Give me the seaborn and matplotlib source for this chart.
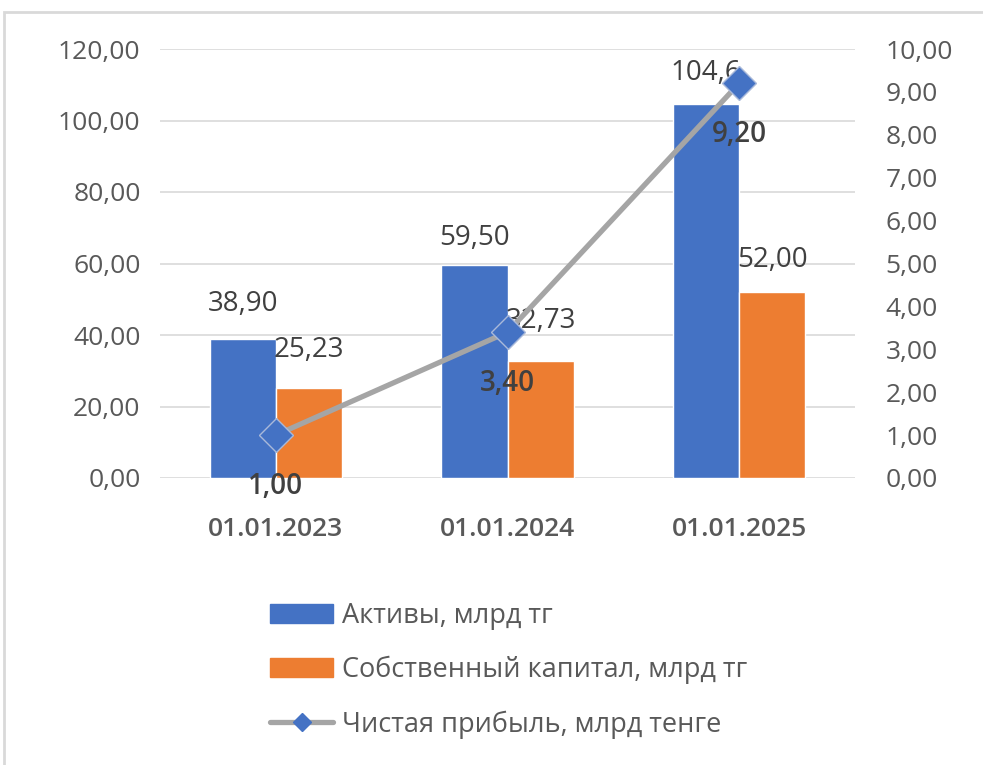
import numpy as np
import pandas as pd
import matplotlib
matplotlib.use("Agg")
import matplotlib.pyplot as plt
from matplotlib.patches import Patch, Rectangle
from matplotlib.lines import Line2D
import seaborn as sns

dates = ["01.01.2023", "01.01.2024", "01.01.2025"]
assets = [38.90, 59.50, 104.6]
equity = [25.23, 32.73, 52.00]
profit = [1.00, 3.40, 9.20]
asset_labels = ["38,90", "59,50", "104,6"]
equity_labels = ["25,23", "32,73", "52,00"]
profit_labels = ["1,00", "3,40", "9,20"]
series_names = ["Активы, млрд тг", "Собственный капитал, млрд тг", "Чистая прибыль, млрд тенге"]
left_ticks = [0, 20, 40, 60, 80, 100, 120]
right_ticks = [0, 1, 2, 3, 4, 5, 6, 7, 8, 9, 10]

BLUE = "#4472C4"
ORANGE = "#ED7D31"
GREY = "#A5A5A5"
TXT = "#595959"
DARK = "#404040"

sns.set_theme(style="white")
plt.rcParams["font.family"] = ["Open Sans", "DejaVu Sans"]

df = pd.DataFrame({
    "date": dates * 2,
    "value": assets + equity,
    "series": [series_names[0]] * 3 + [series_names[1]] * 3,
})

fig = plt.figure(figsize=(9.83, 7.65), dpi=100)
ax = fig.add_axes([160 / 983, 1 - 478 / 765, 695 / 983, 429 / 765])

sns.barplot(data=df, x="date", y="value", hue="series", palette=[BLUE, ORANGE],
            width=0.57, dodge=True, ax=ax, legend=False, saturation=1)
ax.set_ylim(0, 120)
ax.set_xlim(-0.5, 2.5)
ax.set_yticks(left_ticks)
ax.set_yticklabels([f"{v:.2f}".replace(".", ",") for v in left_ticks],
                   fontsize=19, color=TXT)
ax.yaxis.grid(True, color="#D9D9D9", linewidth=1.2)
ax.set_axisbelow(True)
ax.set_xlabel("")
ax.set_ylabel("")
ax.tick_params(axis="x", length=0, pad=28)
ax.tick_params(axis="y", length=0, pad=14)
for lab in ax.get_xticklabels():
    lab.set_fontsize(19)
    lab.set_color(TXT)
    lab.set_fontweight("semibold")
for s in ax.spines.values():
    s.set_visible(False)

# bar labels
for cont, labs, offs in zip(ax.containers, [asset_labels, equity_labels], [[25, 20, 22], [27, 29, 23]]):
    for bar, lab, off in zip(cont, labs, offs):
        ax.annotate(lab, (bar.get_x() + bar.get_width() / 2, bar.get_height()),
                    xytext=(0, off), textcoords="offset points", ha="center", va="center",
                    fontsize=20, color=DARK)

ax2 = ax.twinx()
sns.lineplot(x=np.arange(len(dates)), y=profit, ax=ax2, color=GREY, linewidth=3.8,
             marker="D", markersize=17, markerfacecolor=BLUE, markeredgecolor="#A9B9D9",
             markeredgewidth=1.0)
ax2.set_ylim(0, 10)
ax2.set_yticks(right_ticks)
ax2.set_yticklabels([f"{v:.2f}".replace(".", ",") for v in right_ticks],
                    fontsize=19, color=TXT)
ax2.tick_params(axis="y", length=0, pad=22)
ax2.grid(False)
ax2.set_ylabel("")
for s in ax2.spines.values():
    s.set_visible(False)
for i, (v, lab) in enumerate(zip(profit, profit_labels)):
    ax2.annotate(lab, (i, v), xytext=(0, -37), textcoords="offset points", ha="center",
                 va="center", fontsize=20, color=DARK, fontweight="semibold")

handles = [
    Patch(facecolor=BLUE, edgecolor=BLUE),
    Patch(facecolor=ORANGE, edgecolor=ORANGE),
    Line2D([0], [0], color=GREY, linewidth=3.8, marker="D", markersize=9,
           markerfacecolor=BLUE, markeredgecolor=BLUE),
]
fig.legend(handles, series_names, loc="upper left", bbox_to_anchor=(246 / 983, 1 - 578 / 765),
           frameon=False, fontsize=19.5, labelcolor=TXT, handlelength=2.3, handleheight=0.7,
           handletextpad=0.35, labelspacing=0.95)

fig.patches.append(Rectangle((4 / 983, -0.1), 1.2, 1 - 12 / 765 + 0.1, transform=fig.transFigure,
                             fill=False, edgecolor="#D9D9D9", linewidth=2))

fig.savefig("out.png", dpi=100, facecolor="white")
